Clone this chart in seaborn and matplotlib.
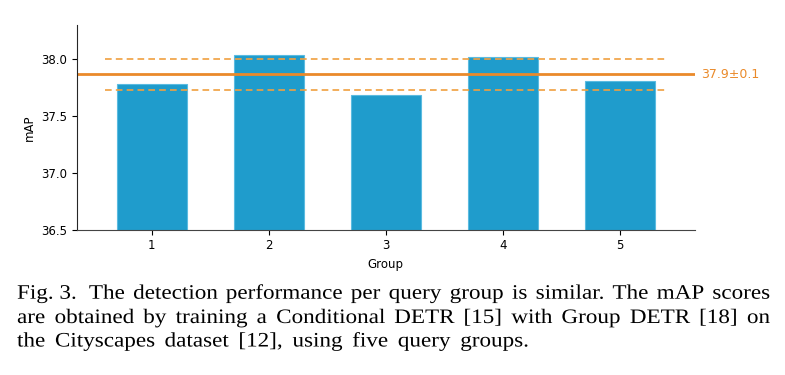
import numpy as np
import pandas as pd
import matplotlib
matplotlib.use("Agg")
import matplotlib.pyplot as plt
import seaborn as sns
from matplotlib.patheffects import AbstractPathEffect
from matplotlib.transforms import Affine2D

# Data
groups = ["1", "2", "3", "4", "5"]
map_scores = [37.78, 38.035, 37.685, 38.02, 37.81]

df = pd.DataFrame({"Group": groups, "mAP": map_scores})
mean = np.mean(map_scores)
std = np.std(map_scores)

sns.set_style("ticks")
plt.rcParams["font.family"] = ["DejaVu Sans"]
plt.rcParams["text.color"] = "black"
plt.rcParams["axes.labelcolor"] = "black"
plt.rcParams["xtick.color"] = "black"
plt.rcParams["ytick.color"] = "black"

fig = plt.figure(figsize=(7.85, 3.75), dpi=100)
ax = fig.add_axes([0.098, 0.3875, 0.787, 0.5455])

sns.barplot(data=df, x="Group", y="mAP", color="#1f9ccc", saturation=1,
            width=0.6, edgecolor="#5bbbe0", linewidth=0.8, ax=ax)

orange = "#ea8a2a"
ax.axhline(mean, color=orange, lw=2)
ax.hlines([mean + std, mean - std], -0.4, 4.4, colors="#f0a040",
          linestyles=(0, (4, 2.5)), lw=1.2)
ax.text(1.01, mean, f"{mean:.1f}\u00b1{std:.1f}", transform=ax.get_yaxis_transform(),
        color=orange, fontsize=9, va="center", ha="left")

ax.set_ylim(36.5, 38.3)
ax.set_xlim(-0.64, 4.64)
ax.set_yticks([36.5, 37.0, 37.5, 38.0])
ax.tick_params(labelsize=8.5, length=3.5)
ax.set_xlabel("Group", fontsize=8.5)
ax.set_ylabel("mAP", fontsize=8.5)
sns.despine(ax=ax)
ax.spines["bottom"].set_color("#444444")


# the caption in the reference is a bit wider than Liberation Serif,
# so stretch the glyphs horizontally (text stays a Text artist)
class Stretch(AbstractPathEffect):
    def __init__(self, sx, x0):
        super().__init__()
        self.sx, self.x0 = sx, x0

    def draw_path(self, renderer, gc, tpath, affine, rgbFace=None):
        t = affine + Affine2D().translate(-self.x0, 0).scale(self.sx, 1).translate(self.x0, 0)
        renderer.draw_path(gc, tpath, t, rgbFace)


caption = [
    ["Fig. 3."] + "The detection performance per query group is similar. The mAP scores".split(),
    "are obtained by training a Conditional DETR [15] with Group DETR [18] on".split(),
    "the Cityscapes dataset [12], using five query groups.".split(),
]
baselines = [298.7, 323.0, 346.5]
W, H = 785, 375
x_left, x_right = 17, 770
sx = 1.125
renderer = fig.canvas.get_renderer()
for i, words in enumerate(caption):
    y = 1 - baselines[i] / H
    texts = [fig.text(0, y, w, family="Liberation Serif", fontsize=14.8,
                      va="baseline", ha="left") for w in words]
    widths = [t.get_window_extent(renderer).width * sx for t in texts]
    extra = [4 if (i == 0 and k == 0) else 0 for k in range(len(words))]
    if i < len(caption) - 1:
        gap = (x_right - x_left - sum(widths) - sum(extra)) / (len(words) - 1)
    else:
        gap = 9.8
    x = x_left
    for t, w, e in zip(texts, widths, extra):
        t.set_x(x / W)
        t.set_path_effects([Stretch(sx, x)])
        x += w + gap + e

fig.savefig("out.png", dpi=100)
